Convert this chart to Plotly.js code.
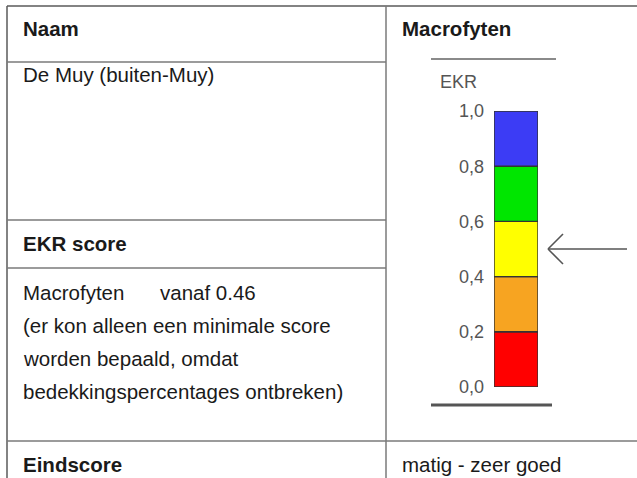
<!DOCTYPE html>
<html>
<head>
<meta charset="utf-8">
<script src="https://cdn.plot.ly/plotly-3.0.1.min.js"></script>
<style>html,body{margin:0;padding:0;background:#fff;}#chart{width:637px;height:478px;}</style>
</head>
<body>
<div id="chart"></div>
<script>
// ---- data ----
var bandNames = ['slecht', 'ontoereikend', 'matig', 'goed', 'zeer goed'];
var bandLower = [0.0, 0.2, 0.4, 0.6, 0.8];
var bandUpper = [0.2, 0.4, 0.6, 0.8, 1.0];
var bandColors = ['#ff0000', '#f7a421', '#ffff00', '#00e600', '#3c3cf5'];
var tickVals = [0, 0.2, 0.4, 0.6, 0.8, 1.0];
var tickText = ['0,0', '0,2', '0,4', '0,6', '0,8', '1,0'];
var arrowValue = 0.5;
var axisLabel = 'EKR';

// table texts
var headerLeft = 'Naam';
var headerRight = 'Macrofyten';
var nameText = 'De Muy (buiten-Muy)';
var scoreHeader = 'EKR score';
var scoreLabel = 'Macrofyten';
var scoreValue = 'vanaf 0.46';
var noteLines = ['(er kon alleen een minimale score', 'worden bepaald, omdat', 'bedekkingspercentages ontbreken)'];
var finalLabel = 'Eindscore';
var finalValue = 'matig - zeer goed';

// ---- helpers ----
var W = 637, H = 478;
function P(x) { return x / W; }
function Q(y) { return 1 - y / H; }

var FONT = 'Liberation Sans, Arial, Helvetica, sans-serif';
var FS = 20.5;
var TFS = 18;

var traces = bandNames.map(function (name, i) {
  return {
    type: 'bar',
    name: name,
    x: [0],
    y: [bandUpper[i] - bandLower[i]],
    base: [bandLower[i]],
    width: [1],
    marker: { color: bandColors[i], line: { color: '#333333', width: 1.4 } },
    hoverinfo: 'skip',
    showlegend: false
  };
});

var lineCol = '#7a7a7a';
function hline(x0, x1, y, col, w) {
  return { type: 'line', xref: 'paper', yref: 'paper', x0: P(x0), x1: P(x1), y0: Q(y), y1: Q(y), line: { color: col || lineCol, width: w || 1.5 } };
}
function vline(x, y0, y1, col, w) {
  return { type: 'line', xref: 'paper', yref: 'paper', x0: P(x), x1: P(x), y0: Q(y0), y1: Q(y1), line: { color: col || lineCol, width: w || 1.5 } };
}

var shapes = [
  hline(7, 637, 6, '#5a5a5a', 1.5),
  vline(7, 6, 478, '#5a5a5a', 1.5),
  vline(386, 6, 478),
  hline(7, 386, 62),
  hline(7, 386, 220),
  hline(7, 386, 268),
  hline(7, 637, 441),
  // chart frame lines
  hline(431, 556, 59, '#8a8a8a', 2),
  hline(431, 552, 405, '#555555', 3),
  // arrow pointing at the score
  { type: 'line', xref: 'paper', yref: 'y', ysizemode: 'pixel', yanchor: arrowValue, x0: P(548), x1: P(627), y0: 0, y1: 0, line: { color: '#555', width: 1.6 } },
  { type: 'line', xref: 'paper', yref: 'y', ysizemode: 'pixel', yanchor: arrowValue, x0: P(548), x1: P(563), y0: 0, y1: 15, line: { color: '#555', width: 1.6 } },
  { type: 'line', xref: 'paper', yref: 'y', ysizemode: 'pixel', yanchor: arrowValue, x0: P(548), x1: P(563), y0: 0, y1: -15, line: { color: '#555', width: 1.6 } }
];

function txt(s, x, baseline, bold, size, color) {
  var fs = size || FS;
  return {
    text: bold ? '<b>' + s + '</b>' : s,
    xref: 'paper', yref: 'paper',
    x: P(x), y: Q(baseline - 0.35 * fs),
    xanchor: 'left', yanchor: 'middle',
    showarrow: false, borderpad: 0,
    font: { family: FONT, size: fs, color: color || '#1a1a1a' }
  };
}

var annotations = [
  txt(headerLeft, 22, 36, true),
  txt(headerRight, 401, 36, true),
  txt(nameText, 22, 82, false),
  txt(scoreHeader, 22, 251, true),
  txt(scoreLabel, 22, 300, false),
  txt(scoreValue, 159, 300, false),
  txt(noteLines[0], 22, 333, false),
  txt(noteLines[1], 22, 366, false),
  txt(noteLines[2], 22, 399, false),
  txt(finalLabel, 22, 472, true),
  txt(finalValue, 401, 472, false),
  txt(axisLabel, 439, 88, false, TFS, '#555')
];

var layout = {
  width: W, height: H,
  margin: { l: 0, r: 0, t: 0, b: 0 },
  paper_bgcolor: '#ffffff',
  plot_bgcolor: 'rgba(0,0,0,0)',
  barmode: 'overlay',
  showlegend: false,
  xaxis: {
    domain: [P(494), P(538)],
    range: [-0.5, 0.5],
    showgrid: false, zeroline: false, showline: false,
    showticklabels: false, ticks: '', fixedrange: true
  },
  yaxis: {
    domain: [Q(387), Q(111)],
    range: [0, 1],
    showgrid: false, zeroline: false, showline: false,
    tickvals: tickVals, ticktext: tickText,
    ticks: '', ticklabelstandoff: 9,
    tickfont: { family: FONT, size: TFS, color: '#555' },
    fixedrange: true
  },
  shapes: shapes,
  annotations: annotations
};

Plotly.newPlot('chart', traces, layout, { staticPlot: true, displayModeBar: false });
</script>
</body>
</html>
